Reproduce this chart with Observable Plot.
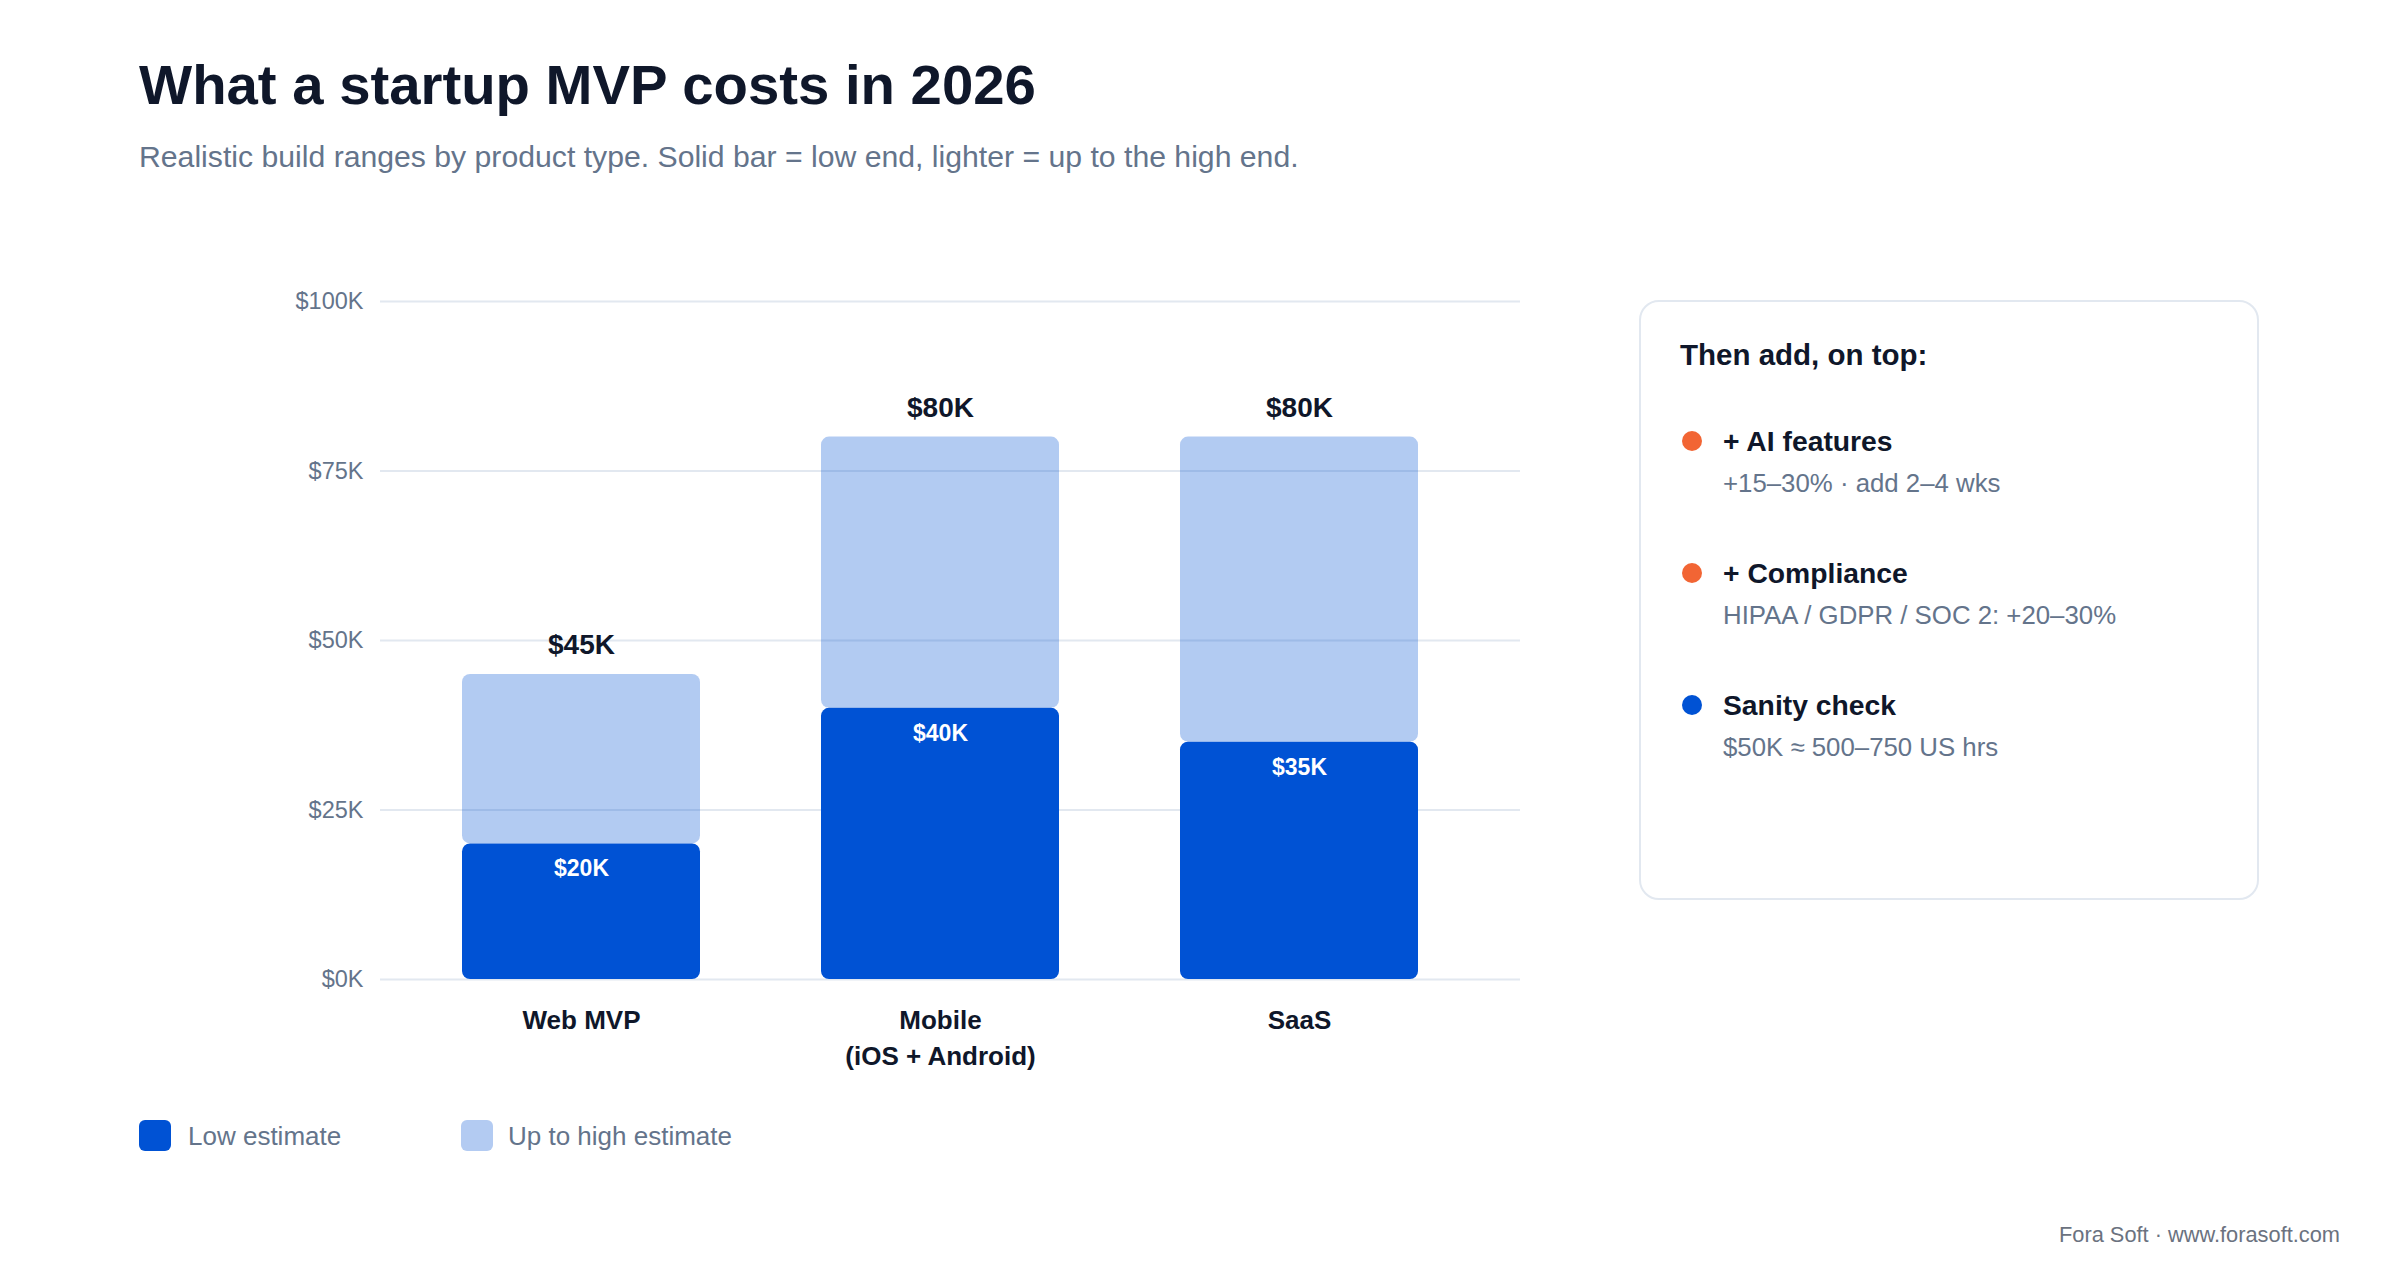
<!DOCTYPE html>
<html><head><meta charset="utf-8">
<script src="https://cdn.jsdelivr.net/npm/d3@7"></script>
<script src="https://cdn.jsdelivr.net/npm/@observablehq/plot@0.6"></script>
<style>
html,body{margin:0;padding:0;background:#ffffff;}
body{width:2400px;height:1280px;position:relative;overflow:hidden;font-family:"Liberation Sans",Arial,sans-serif;}
.abs{position:absolute;white-space:nowrap;}
#chart{position:absolute;left:0;top:261px;}
#chart svg{overflow:visible;}
.panel{position:absolute;left:1639px;top:300px;width:616px;height:596px;border:2px solid #e2e8f0;border-radius:20px;background:#fff;}
.dot{position:absolute;width:20px;height:20px;border-radius:50%;}
.sw{position:absolute;width:32px;height:31px;border-radius:6px;}
</style></head><body>
<div class="abs" style="left:139px;top:57px;font-size:56.3px;line-height:56px;font-weight:700;color:#0f172a;">What a startup MVP costs in 2026</div>
<div class="abs" style="left:139px;top:142px;font-size:30.2px;line-height:30px;color:#64748b;">Realistic build ranges by product type. Solid bar = low end, lighter = up to the high end.</div>
<div id="chart"></div>
<div class="sw" style="left:139px;top:1120px;background:#0052d4;"></div>
<div class="abs" style="left:188px;top:1123px;font-size:26px;line-height:26px;color:#64748b;">Low estimate</div>
<div class="sw" style="left:461px;top:1120px;background:#b3cbf2;"></div>
<div class="abs" style="left:508px;top:1123px;font-size:26px;line-height:26px;color:#64748b;">Up to high estimate</div>
<div class="panel"></div>
<div class="abs" style="left:1680px;top:340px;font-size:29.5px;line-height:29px;font-weight:700;color:#0f172a;">Then add, on top:</div>
<div id="notes"></div>
<div class="abs" style="right:60px;top:1224px;font-size:21.8px;line-height:22px;color:#6b7280;">Fora Soft · www.forasoft.com</div>
<script>
const categories = ["Web MVP", "Mobile\n(iOS + Android)", "SaaS"];
const lowK = [20, 40, 35];
const highK = [45, 80, 80];
const yTicks = [0, 25, 50, 75, 100];

const noteTitles = ["+ AI features", "+ Compliance", "Sanity check"];
const noteTexts = ["+15–30% · add 2–4 wks", "HIPAA / GDPR / SOC 2: +20–30%", "$50K ≈ 500–750 US hrs"];
const noteColors = ["#f26534", "#f26534", "#0052d4"];

const rows = categories.map((c, i) => ({cat: c, low: lowK[i], high: highK[i]}));

const chart = Plot.plot({
  width: 1600, height: 820,
  marginTop: 40, marginBottom: 102, marginLeft: 380, marginRight: 80,
  style: {background: "transparent", fontFamily: '"Liberation Sans", Arial, sans-serif', overflow: "visible"},
  x: {domain: categories, range: [380, 1500], paddingInner: 0.336, paddingOuter: 0.224},
  y: {domain: [0, 100]},
  marks: [
    Plot.gridY(yTicks, {stroke: "#e2e8f0", strokeOpacity: 1, strokeWidth: 2}),
    Plot.axisY(yTicks, {tickSize: 0, tickPadding: 17, tickFormat: d => `$${d}K`, fontSize: 23.5, fill: "#64748b", label: null}),
    Plot.axisX({tickSize: 0, tickPadding: 25, fontSize: 26, fontWeight: 700, fill: "#0f172a", lineHeight: 1.35, label: null}),
    Plot.barY(rows, {x: "cat", y1: "low", y2: "high", fill: "#0052d4", fillOpacity: 0.3, rx: 8}),
    Plot.barY(rows, {x: "cat", y1: 0, y2: "low", fill: "#0052d4", rx: 8}),
    Plot.text(rows, {x: "cat", y: "high", text: d => `$${d.high}K`, lineAnchor: "bottom", dy: -20, fontSize: 28, fontWeight: 700, fill: "#0f172a"}),
    Plot.text(rows, {x: "cat", y: "low", text: d => `$${d.low}K`, lineAnchor: "middle", dy: 25, fontSize: 23, fontWeight: 700, fill: "#ffffff"})
  ]
});
document.getElementById("chart").appendChild(chart);

const notes = document.getElementById("notes");
noteTitles.forEach((t, i) => {
  const cy = 441 + i * 132;
  const dot = document.createElement("div");
  dot.className = "dot";
  dot.style.left = "1682px"; dot.style.top = (cy - 10) + "px"; dot.style.background = noteColors[i];
  notes.appendChild(dot);
  const h = document.createElement("div");
  h.className = "abs";
  h.style.cssText = `left:1723px;top:${cy - 14}px;font-size:28.3px;line-height:28px;font-weight:700;color:#0f172a;`;
  h.textContent = t;
  notes.appendChild(h);
  const s = document.createElement("div");
  s.className = "abs";
  s.style.cssText = `left:1723px;top:${cy + 42 - 13}px;font-size:25.8px;line-height:26px;color:#64748b;`;
  s.textContent = noteTexts[i];
  notes.appendChild(s);
});
</script>
</body></html>
